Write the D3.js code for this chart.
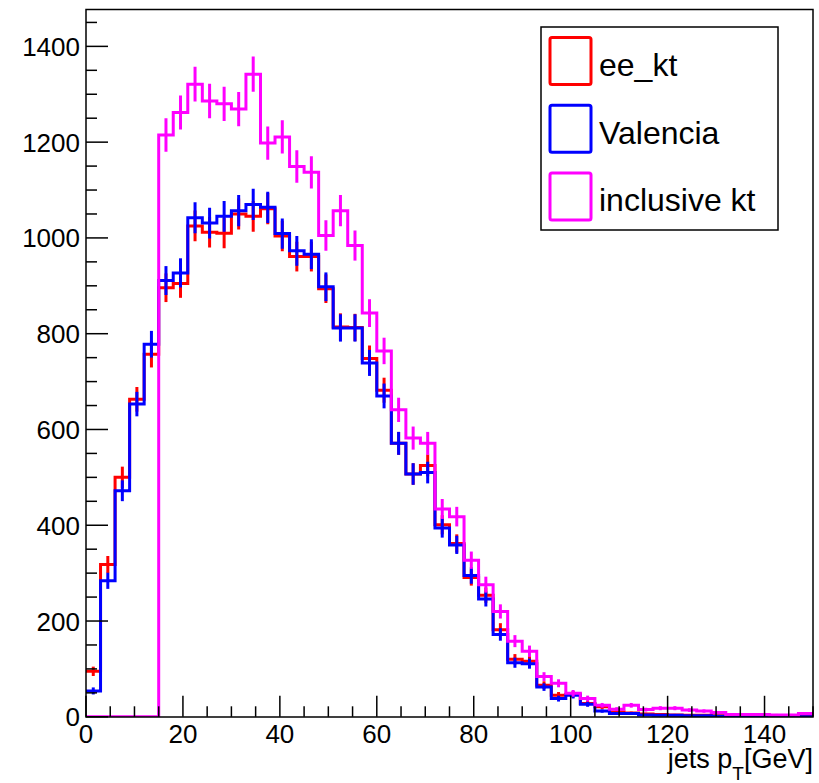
<!DOCTYPE html>
<html>
<head>
<meta charset="utf-8">
<script src="https://cdn.jsdelivr.net/npm/d3@7"></script>
<style>
    body { margin: 0; background: #fff; }
    text { font-family: "Liberation Sans", Arial, Helvetica, sans-serif; }
</style>
</head>
<body>
<div id="chart"></div>
<script>
// bins of 3 GeV from 0 to 150
const binWidth = 3;
const nBins = 50;

const eeKt = [95, 318, 500, 663, 757, 896, 905, 1025, 1012, 1010,
    1050, 1045, 1061, 1004, 961, 961, 894, 814, 813, 748,
    682, 571, 507, 525, 401, 362, 291, 254, 182, 120,
    116, 66, 45, 47, 28, 21, 10, 8, 6, 5,
    4, 3, 3, 2, 2, 1, 1, 1, 1, 1];

const valencia = [54, 284, 472, 653, 778, 911, 927, 1042, 1031, 1045,
    1057, 1070, 1064, 1009, 973, 966, 898, 812, 812, 739,
    670, 571, 507, 510, 394, 359, 295, 246, 172, 113,
    111, 62, 38, 45, 26, 12, 7, 7, 4, 3,
    3, 2, 2, 1, 1, 1, 1, 0, 0, 0];

const inclusiveKt = [0, 0, 0, 0, 0, 1215, 1262, 1321, 1286, 1280,
    1269, 1342, 1198, 1211, 1149, 1137, 1005, 1057, 984, 843,
    764, 641, 582, 571, 434, 418, 327, 276, 220, 158,
    137, 84, 70, 49, 38, 24, 16, 24, 15, 18,
    18, 14, 12, 9, 5, 5, 5, 4, 4, 7];

const seriesNames = ["ee_kt", "Valencia", "inclusive kt"];
const seriesColors = ["#ff0000", "#0000ff", "#ff00ff"];
const seriesData = [eeKt, valencia, inclusiveKt];

const xTicks = [0, 20, 40, 60, 80, 100, 120, 140];
const yTicks = [0, 200, 400, 600, 800, 1000, 1200, 1400];

const width = 819;
const height = 783;
const margin = { top: 9.5, right: 6, bottom: 66, left: 86 };

const svg = d3.select("#chart").append("svg")
    .attr("width", width)
    .attr("height", height);

const xScale = d3.scaleLinear()
    .domain([0, 150])
    .range([margin.left, width - margin.right]);

const yScale = d3.scaleLinear()
    .domain([0, 1477])
    .range([height - margin.bottom - 0.2, margin.top]);

svg.append("clipPath")
    .attr("id", "plot-clip")
    .append("rect")
    .attr("x", margin.left)
    .attr("y", margin.top)
    .attr("width", width - margin.right - margin.left)
    .attr("height", height - margin.bottom - margin.top);

const plot = svg.append("g").attr("clip-path", "url(#plot-clip)");

// step line for one histogram
const stepLine = d3.line()
    .x(d => xScale(d[0]))
    .y(d => yScale(d[1]))
    .curve(d3.curveStepAfter);

seriesData.forEach((values, k) => {
    const pts = values.map((v, i) => [i * binWidth, v]);
    pts.push([nBins * binWidth, values[nBins - 1]]);

    plot.append("path")
        .datum(pts)
        .attr("fill", "none")
        .attr("stroke", seriesColors[k])
        .attr("stroke-width", 3)
        .attr("d", stepLine);

    // poisson error bars at bin centres
    plot.selectAll(".err-" + k)
        .data(values.map((v, i) => ({ x: (i + 0.5) * binWidth, v: v })).filter(d => d.v > 0))
        .enter()
        .append("line")
        .attr("class", "err-" + k)
        .attr("x1", d => xScale(d.x))
        .attr("x2", d => xScale(d.x))
        .attr("y1", d => yScale(d.v - Math.sqrt(d.v)))
        .attr("y2", d => yScale(d.v + Math.sqrt(d.v)))
        .attr("stroke", seriesColors[k])
        .attr("stroke-width", 3);
});

// frame
svg.append("rect")
    .attr("x", margin.left)
    .attr("y", margin.top)
    .attr("width", width - margin.right - margin.left)
    .attr("height", height - margin.bottom - margin.top)
    .attr("fill", "none")
    .attr("stroke", "#000")
    .attr("stroke-width", 1.5);

// x axis, ticks pointing inside like ROOT
const xAxis = svg.append("g")
    .attr("transform", `translate(0, ${yScale(0)})`);

xAxis.selectAll(".minor")
    .data(d3.range(0, 151, 5))
    .enter()
    .append("line")
    .attr("x1", d => xScale(d))
    .attr("x2", d => xScale(d))
    .attr("y1", 0)
    .attr("y2", d => d % 20 === 0 ? -21 : -10.5)
    .attr("stroke", "#000")
    .attr("stroke-width", 1.5);

xAxis.selectAll(".xlabel")
    .data(xTicks)
    .enter()
    .append("text")
    .attr("x", d => xScale(d))
    .attr("y", 26)
    .attr("text-anchor", "middle")
    .style("font-size", "26px")
    .text(d => d);

// y axis
const yAxis = svg.append("g")
    .attr("transform", `translate(${margin.left}, 0)`);

yAxis.selectAll(".minor")
    .data(d3.range(0, 1451, 50))
    .enter()
    .append("line")
    .attr("x1", 0)
    .attr("x2", d => d % 200 === 0 ? 22 : 11)
    .attr("y1", d => yScale(d))
    .attr("y2", d => yScale(d))
    .attr("stroke", "#000")
    .attr("stroke-width", 1.5);

yAxis.selectAll(".ylabel")
    .data(yTicks)
    .enter()
    .append("text")
    .attr("x", -6)
    .attr("y", d => yScale(d) + 9.5)
    .attr("text-anchor", "end")
    .style("font-size", "26px")
    .text(d => d);

// axis title
const title = svg.append("text")
    .attr("x", width - margin.right)
    .attr("y", 768)
    .attr("text-anchor", "end")
    .style("font-size", "27px");
title.append("tspan").text("jets p");
title.append("tspan").attr("dy", 12).style("font-size", "19px").text("T");
title.append("tspan").attr("dy", -12).text("[GeV]");

// legend
const legend = svg.append("g");

legend.append("rect")
    .attr("x", 541)
    .attr("y", 27)
    .attr("width", 237)
    .attr("height", 203)
    .attr("fill", "#fff")
    .attr("stroke", "#000")
    .attr("stroke-width", 1.5);

seriesNames.forEach((name, i) => {
    legend.append("rect")
        .attr("x", 550)
        .attr("y", 37.5 + i * 67.8)
        .attr("width", 41)
        .attr("height", 47)
        .attr("rx", 2)
        .attr("fill", "none")
        .attr("stroke", seriesColors[i])
        .attr("stroke-width", 3);

    legend.append("text")
        .attr("x", 599)
        .attr("y", 76 + i * 67.5)
        .style("font-size", "32px")
        .text(name);
});
</script>
</body>
</html>
